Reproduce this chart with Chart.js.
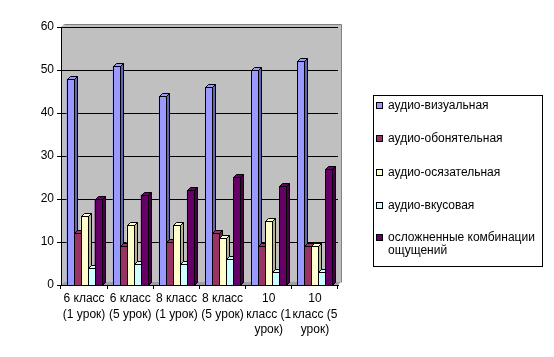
<!DOCTYPE html>
<html><head><meta charset="utf-8">
<script src="https://cdn.jsdelivr.net/npm/chart.js@4.4.0/dist/chart.umd.min.js"></script>
<style>
html,body{margin:0;padding:0;background:#fff;}
#wrap{position:relative;width:554px;height:357px;overflow:hidden;}
canvas{position:absolute;left:0;top:0;}
#legend{position:absolute;left:373px;top:95px;width:170px;height:172px;border:1px solid #000;box-sizing:border-box;font:12px "Liberation Sans",Arial,sans-serif;color:#000;}
.item{position:absolute;left:2px;width:165px;line-height:13px;}
.sw{position:absolute;left:0;top:3px;width:5px;height:5px;border:1px solid #000;}
.tx{position:absolute;left:12px;top:0;white-space:nowrap;}
</style></head>
<body><div id="wrap"><canvas id="c" width="554" height="357"></canvas><div id="legend"></div></div>
<script>
const categories = [["6 класс","(1 урок)"],["6 класс","(5 урок)"],["8 класс","(1 урок)"],["8 класс","(5 урок)"],["10","класс (1","урок)"],["10","класс (5","урок)"]];
const seriesNames = ["аудио-визуальная","аудио-обонятельная","аудио-осязательная","аудио-вкусовая","осложненные комбинации ощущений"];
const legendLines = [["аудио-визуальная"],["аудио-обонятельная"],["аудио-осязательная"],["аудио-вкусовая"],["осложненные комбинации","ощущений"]];
const audioVisual = [48,51,44,46,50,52];
const audioSmell  = [12,9,10,12,9,9];
const audioTouch  = [16,14,14,11,15,9];
const audioTaste  = [4,5,5,6,3,3];
const combined    = [20,21,22,25,23,27];
const yTicks = [0,10,20,30,40,50,60];
const seriesValues = [audioVisual,audioSmell,audioTouch,audioTaste,combined];
const frontColors = ["#9999FF","#993366","#FFFFCC","#CCFFFF","#660066"];
const sideColors  = ["#6666B0","#6A2447","#B3B38F","#8FB3B3","#470047"];

const DEPTH = 3;
const font = {family:'"Liberation Sans", Arial, sans-serif', size:12};

const plugin3d = {
  id:'excel3d',
  beforeDraw(chart){
    const {ctx, chartArea:a} = chart;
    const d = DEPTH;
    ctx.save();
    ctx.fillStyle = '#C0C0C0';
    ctx.fillRect(a.left+d, a.top-d, a.right-a.left, a.bottom-a.top);
    ctx.beginPath();
    ctx.moveTo(a.left, a.top); ctx.lineTo(a.left+d, a.top-d); ctx.lineTo(a.left+d, a.bottom-d); ctx.lineTo(a.left, a.bottom); ctx.closePath();
    ctx.fill();
    ctx.fillStyle = '#A0A0A0';
    ctx.beginPath();
    ctx.moveTo(a.left, a.bottom); ctx.lineTo(a.left+d, a.bottom-d); ctx.lineTo(a.right+d, a.bottom-d); ctx.lineTo(a.right, a.bottom); ctx.closePath();
    ctx.fill();
    ctx.strokeStyle = '#808080'; ctx.lineWidth = 1;
    ctx.beginPath();
    ctx.moveTo(a.left+d+0.5, a.top-d+0.5); ctx.lineTo(a.right+d+0.5, a.top-d+0.5); ctx.lineTo(a.right+d+0.5, a.bottom-d+0.5);
    ctx.stroke();
    ctx.restore();
  },
  afterDatasetsDraw(chart){
    const {ctx} = chart;
    const d = DEPTH;
    ctx.save();
    ctx.lineWidth = 1;
    ctx.strokeStyle = '#000';
    const n = chart.data.labels.length;
    for (let j=0;j<n;j++){
      for (let i=0;i<chart.data.datasets.length;i++){
        const el = chart.getDatasetMeta(i).data[j];
        const p = el.getProps(['x','y','base','width'], true);
        const l = Math.round(p.x - p.width/2)+0.5, r = Math.round(p.x + p.width/2)+0.5;
        const t = Math.round(p.y)+0.5, b = Math.round(p.base)+0.5;
        ctx.fillStyle = sideColors[i];
        ctx.beginPath();
        ctx.moveTo(r,t); ctx.lineTo(r+d,t-d); ctx.lineTo(r+d,b-d); ctx.lineTo(r,b); ctx.closePath();
        ctx.fill(); ctx.stroke();
        ctx.fillStyle = frontColors[i];
        ctx.beginPath();
        ctx.moveTo(l,t); ctx.lineTo(l+d,t-d); ctx.lineTo(r+d,t-d); ctx.lineTo(r,t); ctx.closePath();
        ctx.fill(); ctx.stroke();
        ctx.fillStyle = frontColors[i];
        ctx.fillRect(l,t,r-l,b-t);
        ctx.strokeRect(l,t,r-l,b-t);
      }
    }
    ctx.restore();
  }
};

new Chart(document.getElementById('c'), {
  type:'bar',
  data:{
    labels:categories,
    datasets: seriesNames.map((name,i)=>({label:name, data:seriesValues[i], backgroundColor:frontColors[i], borderWidth:0, categoryPercentage:0.76, barPercentage:1}))
  },
  options:{
    responsive:false, animation:false, devicePixelRatio:1,
    layout:{padding:{top:27,right:216,left:0,bottom:0}},
    plugins:{legend:{display:false}, tooltip:{enabled:false}},
    scales:{
      x:{
        grid:{offset:true, drawOnChartArea:false, drawTicks:true, tickLength:4, color:'#000'},
        border:{color:'#000'},
        ticks:{font:{...font, lineHeight:1.3}, color:'#000', padding:2, maxRotation:0, autoSkip:false},
        afterFit(s){ s.height = 72; }
      },
      y:{
        min:0, max:60,
        afterBuildTicks(s){ s.ticks = yTicks.map(v=>({value:v})); },
        grid:{color:'#000', tickLength:4, tickColor:'#000'},
        border:{color:'#000'},
        ticks:{font, color:'#000', padding:3},
        afterFit(s){ s.width = 61; }
      }
    }
  },
  plugins:[plugin3d]
});

const lg = document.getElementById('legend');
const itemTops = [3,36,70,103,135];
legendLines.forEach((lines,i)=>{
  const it = document.createElement('div');
  it.className='item'; it.style.top = itemTops[i]+'px';
  const sw = document.createElement('div'); sw.className='sw'; sw.style.background = frontColors[i];
  const tx = document.createElement('div'); tx.className='tx'; tx.innerHTML = lines.join('<br>');
  it.appendChild(sw); it.appendChild(tx); lg.appendChild(it);
});
</script>
</body></html>
